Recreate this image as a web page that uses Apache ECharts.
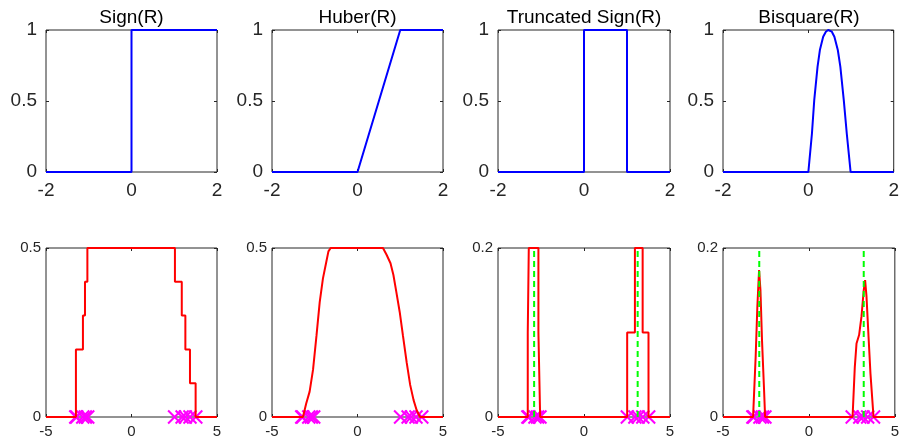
<!DOCTYPE html>
<html>
<head>
<meta charset="utf-8">
<script src="https://cdn.jsdelivr.net/npm/echarts@6/dist/echarts.min.js"></script>
<style>
  html, body { margin: 0; padding: 0; background: #fff; }
  #chart { width: 902px; height: 442px; }
</style>
</head>
<body>
<div id="chart"></div>
<script>
// Panel titles
const titles = ['Sign(R)', 'Huber(R)', 'Truncated Sign(R)', 'Bisquare(R)'];

// Top row: weight functions of the residual R
const signRx = [-2, 0, 0, 2];
const signRy = [0, 0, 1, 1];
const huberRx = [-2, 0, 1, 2];
const huberRy = [0, 0, 1, 1];
const truncRx = [-2, 0, 0, 1, 1, 2];
const truncRy = [0, 0, 1, 1, 0, 0];
const bisqRx = [-2, 0, 0.084, 0.138, 0.215, 0.27, 0.347, 0.41, 0.464, 0.55, 0.61, 0.69, 0.75, 0.83, 0.9, 0.99, 2];
const bisqRy = [0, 0, 0.271, 0.506, 0.741, 0.859, 0.953, 0.988, 1, 0.988, 0.953, 0.859, 0.741, 0.506, 0.271, 0, 0];

// Bottom row: objective over x (step curves list the value after each breakpoint)
const signObjX = [-5, -3.25, -2.84, -2.72, -2.58, 2.54, 2.94, 3.15, 3.42, 3.75, 5];
const signObjY = [0, 0.2, 0.3, 0.4, 0.5, 0.4, 0.3, 0.2, 0.1, 0, 0];
const huberObjX = [-5, -3.19, -3.0, -2.8, -2.6, -2.4, -2.21, -2.02, -1.82, -1.7, -1.57,
                   1.49, 1.7, 1.93, 2.1, 2.27, 2.47, 2.66, 2.88, 3.08, 3.28, 3.46, 3.66, 5];
const huberObjY = [0, 0, 0.04, 0.075, 0.14, 0.24, 0.34, 0.41, 0.46, 0.49, 0.5,
                   0.5, 0.48, 0.455, 0.42, 0.37, 0.31, 0.24, 0.16, 0.095, 0.05, 0.02, 0, 0];
const truncObjX = [-5, -3.27, -3.21, -2.65, -2.55, 2.51, 2.96, 3.41, 3.75, 5];
const truncObjY = [0, 0.1, 0.2, 0.1, 0, 0.1, 0.2, 0.1, 0, 0];
const bisqObjX = [-5, -3.25, -3.1, -3.0, -2.9, -2.82, -2.73, -2.61, -2.55,
                  2.54, 2.67, 2.77, 2.92, 3.06, 3.19, 3.27, 3.35, 3.47, 3.58, 3.76, 5];
const bisqObjY = [0, 0, 0.071, 0.131, 0.174, 0.15, 0.091, 0.032, 0,
                  0, 0.059, 0.087, 0.097, 0.119, 0.15, 0.162, 0.143, 0.095, 0.052, 0, 0];

// Sample points shown on the baseline
const sampleX = [-3.26, -3.2, -2.85, -2.7, -2.56, 2.52, 2.96, 3.15, 3.42, 3.76];

// Estimated modes (dashed verticals)
const truncModes = [-2.90, 3.12];
const bisqModes = [-2.89, 3.19];

// Axis ranges and tick steps
const topX = { min: -2, max: 2, interval: 2 };
const topY = { min: 0, max: 1, interval: 0.5 };
const botX = { min: -5, max: 5, interval: 5 };
const botYMax = [0.5, 0.5, 0.2, 0.2];

const FONT = '"Liberation Sans", Arial, Helvetica, sans-serif';
const INK = '#262626';

const colLeft = [46, 272, 498, 723];
const colWidth = [171, 171, 172, 172];
const rows = [{ top: 30, height: 142 }, { top: 248, height: 169 }];

const grid = [], xAxis = [], yAxis = [], series = [], graphic = [];

function addPanel(row, col, xr, yr, fontSize, xMargin, yMargin) {
  const g = grid.length;
  grid.push({
    left: colLeft[col], top: rows[row].top, width: colWidth[col], height: rows[row].height,
    show: true, borderColor: INK, borderWidth: 1, backgroundColor: 'transparent',
    containLabel: false
  });
  const tick = { show: true, inside: true, length: 3, lineStyle: { color: INK, width: 1 } };
  const common = { type: 'value', gridIndex: g, splitLine: { show: false },
                   axisLine: { show: false, onZero: false }, axisTick: tick };
  xAxis.push(Object.assign({}, common, xr, { position: 'bottom',
    axisLabel: { fontSize, fontFamily: FONT, color: INK, margin: xMargin } }));
  xAxis.push(Object.assign({}, common, xr, { position: 'top', axisLabel: { show: false } }));
  yAxis.push(Object.assign({}, common, yr, { position: 'left',
    axisLabel: { fontSize, fontFamily: FONT, color: INK, margin: yMargin } }));
  yAxis.push(Object.assign({}, common, yr, { position: 'right', axisLabel: { show: false } }));
  return g;
}

const pairs = (xs, ys) => xs.map((x, i) => [x, ys[i]]);

function line(g, xs, ys, color, extra) {
  series.push(Object.assign({
    type: 'line', xAxisIndex: 2 * g, yAxisIndex: 2 * g, data: pairs(xs, ys),
    showSymbol: false, symbol: 'none', clip: true, silent: true,
    lineStyle: { color, width: 2 }
  }, extra || {}));
}

// Top row
const topCurves = [[signRx, signRy], [huberRx, huberRy], [truncRx, truncRy], [bisqRx, bisqRy]];
topCurves.forEach((c, i) => {
  const g = addPanel(0, i, topX, topY, 19, 9, 9);
  line(g, c[0], c[1], '#0000ff');
  graphic.push({
    type: 'text', x: colLeft[i] + colWidth[i] / 2, y: 18,
    style: { text: titles[i], fill: '#000', fontSize: 19, fontFamily: FONT,
             align: 'center', verticalAlign: 'middle' }
  });
});

// Bottom row
const botCurves = [[signObjX, signObjY, 'end'], [huberObjX, huberObjY, false],
                   [truncObjX, truncObjY, 'end'], [bisqObjX, bisqObjY, false]];
const modes = [null, null, truncModes, bisqModes];
botCurves.forEach((c, i) => {
  const g = addPanel(1, i, botX, { min: 0, max: botYMax[i], interval: botYMax[i] }, 15, 7, 5);
  line(g, c[0], c[1], '#ff0000', c[2] ? { step: c[2] } : {});
  series.push({
    type: 'scatter', xAxisIndex: 2 * g, yAxisIndex: 2 * g, silent: true,
    data: sampleX.map(x => [x, 0]),
    symbol: 'path://M0,0L10,10M10,0L0,10', symbolSize: 13,
    itemStyle: { color: 'transparent', borderColor: '#ff00ff', borderWidth: 2, opacity: 1 }
  });
  if (modes[i]) {
    modes[i].forEach(m => {
      line(g, [m, m], [0, botYMax[i]], '#00ff00',
           { lineStyle: { color: '#00ff00', width: 2, type: [6, 4] } });
    });
  }
});

const chart = echarts.init(document.getElementById('chart'), null, { renderer: 'canvas' });
chart.setOption({
  animation: false,
  backgroundColor: '#fff',
  grid, xAxis, yAxis, series, graphic
});
</script>
</body>
</html>
